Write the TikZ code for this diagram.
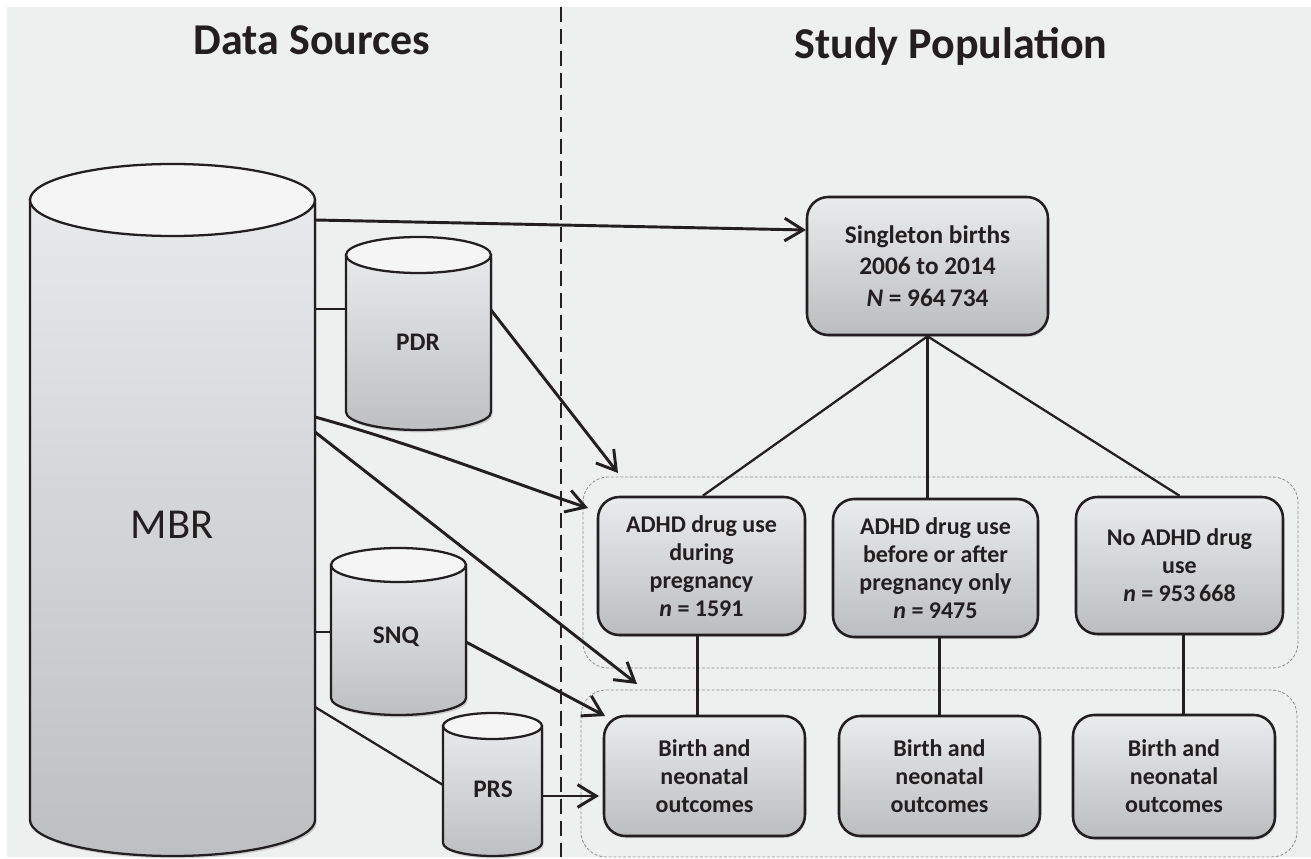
\documentclass[tikz,border=0pt]{standalone}
\usepackage{fontspec}
\setmainfont{Carlito}
\usetikzlibrary{arrows.meta,shadows}
\definecolor{ink}{HTML}{231F20}
\definecolor{bg}{HTML}{EEEFEF}
\definecolor{gtop}{HTML}{EAEBEC}
\definecolor{gbot}{HTML}{BCBDBF}
\definecolor{ctop}{HTML}{E8E9EA}
\definecolor{cbot}{HTML}{BEBFC1}
\definecolor{grp}{HTML}{8E8E8E}
\tikzset{
  box/.style={draw=ink, line width=1.9pt, rounded corners=16pt, top color=gtop, bottom color=gbot,
    align=center, text=ink, font=\bfseries\fontsize{18}{21}\selectfont, inner sep=0pt,
    drop shadow={opacity=0.25, shadow xshift=0.8pt, shadow yshift=-1.6pt}},
  grpbox/.style={draw=grp, line width=0.6pt, dash pattern=on 2.2pt off 1.4pt, rounded corners=19pt},
  conn/.style={draw=ink, line width=1.7pt},
  arr/.style={draw=ink, line width=2.2pt, -{Straight Barb[length=14pt,width=17pt]}},
  cylbody/.style={draw=ink, line width=1.7pt, top color=ctop, bottom color=cbot},
  cyltop/.style={draw=ink, line width=1.7pt, fill=bg!60!white},
  cyllab/.style={font=\bfseries\fontsize{19}{22}\selectfont, text=ink},
  title/.style={font=\bfseries\fontsize{33}{38}\selectfont, text=ink, anchor=base},
  divider/.style={draw=ink, line width=1.9pt, dash pattern=on 11pt off 5.5pt}
}
\newcommand\drawcyl[5]{%
  \pgfmathsetmacro\cylcx{(#1+#2)/2}\pgfmathsetmacro\cylrx{(#2-#1)/2}%
  \begin{scope}[xshift=1.2pt,yshift=-1.8pt]
    \fill[black,opacity=0.15] (#1,#3) -- (#1,#4) arc[start angle=180,end angle=0,x radius=\cylrx,y radius=#5] -- (#2,#3) -- cycle;
  \end{scope}
  \draw[cylbody] (#1,#3) -- (#1,#4) arc[start angle=180,end angle=0,x radius=\cylrx,y radius=#5] -- (#2,#3) -- cycle;
  \draw[cyltop] (\cylcx,#3) ellipse[x radius=\cylrx, y radius=#5];
}
\begin{document}
\begin{tikzpicture}[x=0.75pt,y=-0.75pt]
\useasboundingbox (0,0) rectangle (1311,859);
\fill[white] (0,0) rectangle (1311,859);
\fill[bg] (7,7) rectangle (1311,857);

% titles
\node[title] (t1) at (312,55) {Data Sources};
\node[title] (t2) at (951,59) {Study Population};

% divider
\draw[divider] (561,7) -- (561,857);

% group boxes
\draw[grpbox] (583,477) rectangle (1298,668);
\draw[grpbox] (581,690) rectangle (1297,857);

% cylinders
\drawcyl{30}{315}{200}{820}{36}
\drawcyl{346}{491}{255}{412}{18}
\drawcyl{331}{466}{565}{698}{17}
\drawcyl{443}{542}{726}{843}{13}
\node[font=\fontsize{32}{36}\selectfont, text=ink] (mbr) at (172,525) {MBR};
\node[cyllab] (pdr) at (418,342) {PDR};
\node[cyllab] (snq) at (396,637) {SNQ};
\node[cyllab] (prs) at (493,789) {PRS};

% attachment coordinates
\coordinate (mbrA) at (315,220);
\coordinate (mbrB) at (315,309);
\coordinate (mbrC) at (315,417);
\coordinate (mbrD) at (315,432);
\coordinate (mbrE) at (315,632);
\coordinate (mbrF) at (315,707);
\coordinate (pdrL) at (346,309);
\coordinate (pdrR) at (491,310);
\coordinate (snqL) at (331,632);
\coordinate (snqR) at (466,642);
\coordinate (prsL) at (443,785);
\coordinate (prsR) at (542,796);
\coordinate (tipG1) at (588,508);
\coordinate (tipG2) at (637,684);
\coordinate (tipPDR) at (618,473);
\coordinate (tipSNQ) at (605,716);
\coordinate (tipPRS) at (599,796);
\coordinate (sIn) at (806,230);

% boxes
\node[box, minimum width=180.75pt, minimum height=103.5pt, font=\bfseries\fontsize{19}{23.5}\selectfont] (single) at (927.5,266)
  {Singleton births\\2006 to 2014\\\textit{N} = 964\,734};
\node[box, minimum width=155.25pt, minimum height=103.5pt] (a) at (701.5,566)
  {ADHD drug use\\during\\pregnancy\\\textit{n} = 1591};
\node[box, minimum width=153.75pt, minimum height=103.5pt] (b) at (935.5,568)
  {ADHD drug use\\before or after\\pregnancy only\\\textit{n} = 9475};
\node[box, minimum width=155.25pt, minimum height=102.75pt] (c) at (1179.5,565.5)
  {No ADHD drug\\use\\\textit{n} = 953\,668};
\node[box, minimum width=150.75pt, minimum height=90pt] (d) at (704.5,776)
  {Birth and\\neonatal\\outcomes};
\node[box, minimum width=150.75pt, minimum height=90pt] (e) at (939.5,776)
  {Birth and\\neonatal\\outcomes};
\node[box, minimum width=151.5pt, minimum height=92.25pt] (f) at (1174,776.5)
  {Birth and\\neonatal\\outcomes};

% connectors
\draw[arr] (mbrA) -- (sIn);
\draw[conn] (mbrB) -- (pdrL);
\draw[conn] (mbrE) -- (snqL);
\draw[conn] (mbrF) -- (prsL);
\draw[arr] (mbrC) .. controls (420,446) and (510,482) .. (tipG1);
\draw[arr] (mbrD) -- (tipG2);
\draw[arr] (pdrR) -- (tipPDR);
\draw[arr] (snqR) -- (tipSNQ);
\draw[arr] (prsR) -- (tipPRS);

\draw[conn] (single.south) -- ([xshift=1pt]a.north);
\draw[conn] (single.south) -- (b.north -| single.south);
\draw[conn] (single.south) -- (c.north);
\draw[conn] ([xshift=-3pt]a.south) -- ([xshift=-3pt]a.south |- d.north);
\draw[conn] (e.north |- b.south) -- (e.north);
\draw[conn] ([xshift=3pt]c.south) -- ([xshift=3pt]c.south |- f.north);
\end{tikzpicture}
\end{document}
